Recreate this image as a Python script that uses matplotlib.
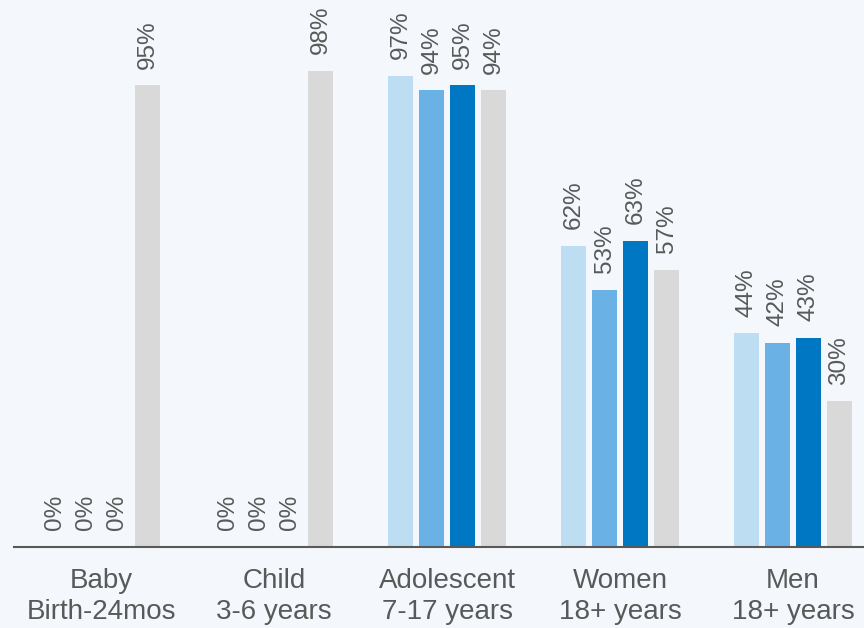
import matplotlib.pyplot as plt
import numpy as np

# categories and series (percent)
groups = ["Baby\nBirth-24mos", "Child\n3-6 years", "Adolescent\n7-17 years",
          "Women\n18+ years", "Men\n18+ years"]
series_a = [0, 0, 97, 62, 44]
series_b = [0, 0, 94, 53, 42]
series_c = [0, 0, 95, 63, 43]
series_d = [95, 98, 94, 57, 30]

colors = ["#BDDDF3", "#6AB2E6", "#0077C2", "#D9D9D9"]
bg = "#F4F8FC"
text_col = "#595959"

plt.rcParams["font.family"] = ["Liberation Sans", "DejaVu Sans"]

fig = plt.figure(figsize=(8.64, 6.28), dpi=100, facecolor=bg)
ax = fig.add_axes([14 / 864, 81 / 628, 850 / 864, 547 / 628])
ax.set_facecolor(bg)

x = np.arange(len(groups))
width = 0.1445
step = 0.179
offsets = [-1.5 * step, -0.5 * step, 0.5 * step, 1.5 * step]

for vals, off, col in zip([series_a, series_b, series_c, series_d], offsets, colors):
    bars = ax.bar(x + off, vals, width, color=col, zorder=2)
    for b, v in zip(bars, vals):
        ax.annotate(f"{v}%", (b.get_x() + b.get_width() / 2, v),
                    xytext=(0, 12), textcoords="offset points",
                    rotation=90, ha="center", va="bottom",
                    fontsize=17.5, color=text_col)

ax.set_xlim(-0.503, 4.41)
ax.set_ylim(0, 112.6)
ax.set_xticks(x)
ax.set_xticklabels(groups, fontsize=20, color=text_col, linespacing=1.25)
ax.tick_params(axis="x", length=0, pad=15)
ax.set_yticks([])
for s in ["top", "right", "left"]:
    ax.spines[s].set_visible(False)
ax.spines["bottom"].set_color(text_col)
ax.spines["bottom"].set_linewidth(1.5)

fig.savefig("out.png", dpi=100, facecolor=bg)
